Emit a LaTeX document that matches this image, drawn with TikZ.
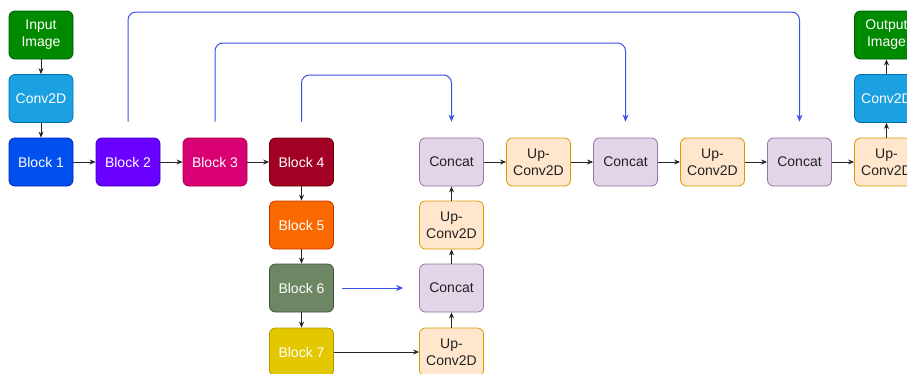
\documentclass[tikz,border=0pt]{standalone}
\usepackage{fontspec}
\setmainfont{Liberation Sans}
\usetikzlibrary{arrows.meta}
\definecolor{cgreen}{HTML}{008A00}\definecolor{sgreen}{HTML}{005700}
\definecolor{clblue}{HTML}{1BA1E2}\definecolor{slblue}{HTML}{006EAF}
\definecolor{ccobalt}{HTML}{0050EF}\definecolor{scobalt}{HTML}{001DBC}
\definecolor{cindigo}{HTML}{6A00FF}\definecolor{sindigo}{HTML}{3700CC}
\definecolor{cmagenta}{HTML}{D80073}\definecolor{smagenta}{HTML}{A50040}
\definecolor{ccrimson}{HTML}{A20025}\definecolor{scrimson}{HTML}{6F0000}
\definecolor{corange}{HTML}{FA6800}\definecolor{sorange}{HTML}{C73500}
\definecolor{colive}{HTML}{6D8764}\definecolor{solive}{HTML}{3A5431}
\definecolor{cyellow}{HTML}{E3C800}\definecolor{syellow}{HTML}{B09500}
\definecolor{cconcat}{HTML}{E1D5E7}\definecolor{sconcat}{HTML}{9673A6}
\definecolor{cup}{HTML}{FFE6CC}\definecolor{sup}{HTML}{D79B00}
\definecolor{skipblue}{HTML}{3A50E6}
\definecolor{darktext}{HTML}{222222}
\begin{document}
\begin{tikzpicture}[x=1pt,y=-1pt,
  box/.style={rounded corners=6pt, minimum width=64pt, minimum height=48pt, inner sep=0pt, align=center, font=\fontsize{14}{17}\selectfont, line width=0.8pt},
  wbox/.style={box, text=white},
  concatbox/.style={box, fill=cconcat, draw=sconcat, text=darktext},
  upbox/.style={box, fill=cup, draw=sup, text=darktext},
  arr/.style={-{Stealth[length=6pt,width=5pt]}, line width=0.8pt, draw=black!85},
  skip/.style={-{Stealth[length=7pt,width=6pt]}, line width=1pt, draw=skipblue, rounded corners=8pt}]
\clip (0,0) rectangle (907,373);
\fill[white] (0,0) rectangle (907,373);
% encoder
\node[wbox, fill=cgreen, draw=sgreen] (in) at (41,35) {Input\\Image};
\node[wbox, fill=clblue, draw=slblue] (c1) at (41,98.5) {Conv2D};
\node[wbox, fill=ccobalt, draw=scobalt] (b1) at (41,162) {Block 1};
\node[wbox, fill=cindigo, draw=sindigo] (b2) at (128,162) {Block 2};
\node[wbox, fill=cmagenta, draw=smagenta] (b3) at (215,162) {Block 3};
\node[wbox, fill=ccrimson, draw=scrimson] (b4) at (301.5,162) {Block 4};
\node[wbox, fill=corange, draw=sorange] (b5) at (301.5,225) {Block 5};
\node[wbox, fill=colive, draw=solive] (b6) at (301.5,288) {Block 6};
\node[wbox, fill=cyellow, draw=syellow] (b7) at (301.5,352) {Block 7};
% decoder
\node[upbox] (u1) at (451.5,352) {Up-\\Conv2D};
\node[concatbox] (k1) at (451.5,288) {Concat};
\node[upbox] (u2) at (451.5,225) {Up-\\Conv2D};
\node[concatbox] (k2) at (451.5,162) {Concat};
\node[upbox] (u3) at (538.5,162) {Up-\\Conv2D};
\node[concatbox] (k3) at (625.5,162) {Concat};
\node[upbox] (u4) at (712.5,162) {Up-\\Conv2D};
\node[concatbox] (k4) at (799.5,162) {Concat};
\node[upbox] (u5) at (886.5,162) {Up-\\Conv2D};
\node[wbox, fill=clblue, draw=slblue] (c2) at (886.5,98.5) {Conv2D};
\node[wbox, fill=cgreen, draw=sgreen] (out) at (886.5,35) {Output\\Image};
% black arrows
\draw[arr] (in) -- (c1);
\draw[arr] (c1) -- (b1);
\draw[arr] (b1) -- (b2);
\draw[arr] (b2) -- (b3);
\draw[arr] (b3) -- (b4);
\draw[arr] (b4) -- (b5);
\draw[arr] (b5) -- (b6);
\draw[arr] (b6) -- (b7);
\draw[arr] (b7) -- (u1);
\draw[arr] (u1) -- (k1);
\draw[arr] (k1) -- (u2);
\draw[arr] (u2) -- (k2);
\draw[arr] (k2) -- (u3);
\draw[arr] (u3) -- (k3);
\draw[arr] (k3) -- (u4);
\draw[arr] (u4) -- (k4);
\draw[arr] (k4) -- (u5);
\draw[arr] (u5) -- (c2);
\draw[arr] (c2) -- (out);
% skip connections
\draw[skip] ([yshift=16pt]b2.north) -- (b2.north |- 0,12) -- (k4.north |- 0,12) -- ([yshift=16pt]k4.north);
\draw[skip] ([yshift=16pt]b3.north) -- (b3.north |- 0,43) -- (k3.north |- 0,43) -- ([yshift=16pt]k3.north);
\draw[skip] ([yshift=16pt]b4.north) -- (b4.north |- 0,75) -- (k2.north |- 0,75) -- ([yshift=16pt]k2.north);
\draw[skip, shorten <=8pt, shorten >=16pt] (b6) -- (k1);
\end{tikzpicture}
\end{document}
